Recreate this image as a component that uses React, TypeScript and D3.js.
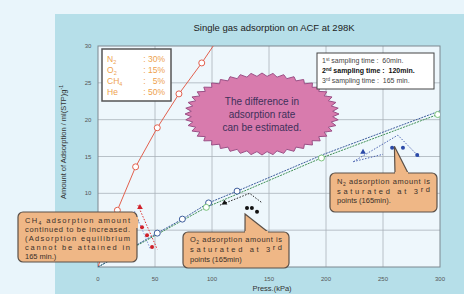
import { useEffect, useRef } from "react";
import * as d3 from "d3";

// isotherm data (pressure kPa, amount ml(STP)/g)
const pressureCH4 = [0, 17, 33, 52, 71, 91, 112];
const amountCH4 = [0, 7.7, 13.6, 18.9, 23.5, 27.7, 32.5];

const pressureN2 = [0, 52, 74, 97, 122, 198, 300];
const amountN2 = [0, 4.6, 6.5, 8.7, 10.3, 15.3, 21.2];

const pressureO2 = [0, 95, 196, 298];
const amountO2 = [0, 8.1, 14.8, 20.7];

// sampling points (1st, 2nd, 3rd ...)
const ch4KinP = [36.8, 38.6, 43, 47.4];
const ch4KinQ = [8.1, 5.4, 4.3, 2.7];
const o2KinP = [111, 130.7, 135, 139.5];
const o2KinQ = [8.7, 8.0, 8.0, 7.5];
const n2KinP = [232.5, 258, 267.5, 280];
const n2KinQ = [15.6, 16.2, 16.2, 15.2];

const ch4GuideA: [number, number][] = [[35, 8.4], [52, 2.4]];
const ch4GuideB: [number, number][] = [[32, 7.6], [46, 2.4]];
const o2Guide: [number, number][] = [[107, 8.4], [133, 10.0], [144, 8.7]];
const n2GuideA: [number, number][] = [[224, 14.3], [263, 17.9], [282, 14.9]];
const n2GuideB: [number, number][] = [[224, 14.3], [250, 15.3]];

const xTicks = [0, 50, 100, 150, 200, 250, 300];
const yTicks = [10, 15, 20, 25, 30];
const yGrid = [5, 10, 15, 20, 25];

const legendGas = [["N", "2"], ["O", "2"], ["CH", "4"], ["He", ""]];
const legendPct = [": 30%", ": 15%", ":   5%", ": 50%"];

const samplingOrd = [["1", "st"], ["2", "nd"], ["3", "rd"]];
const samplingTime = [" sampling time :  60min.", " sampling time :  120min.", " sampling time :  165 min."];

const FONT = "'Liberation Sans', Arial, sans-serif";

export default function App() {
  const svgRef = useRef<SVGSVGElement>(null);

  useEffect(() => {
    if (!svgRef.current) return;
    const svg = d3.select(svgRef.current);
    svg.selectAll("*").remove();

    const W = 464;
    const H = 294;
    const plot = { left: 98, right: 440, top: 46, bottom: 267 };

    const x = d3.scaleLinear().domain([0, 300]).range([plot.left, plot.right]);
    const y = d3.scaleLinear().domain([0, 30]).range([plot.bottom, plot.top]);

    svg.append("rect").attr("width", W).attr("height", H).attr("fill", "#e9f5fb");
    svg.append("rect").attr("x", 55).attr("y", 14).attr("width", W - 55).attr("height", H - 14).attr("fill", "#b6dfe9");

    svg.append("text")
      .attr("x", 274).attr("y", 31)
      .attr("text-anchor", "middle")
      .style("font-family", FONT).style("font-size", "9.5px").style("fill", "#222")
      .text("Single gas adsorption on ACF at 298K");

    svg.append("defs").append("clipPath").attr("id", "plotclip")
      .append("rect")
      .attr("x", plot.left).attr("y", plot.top)
      .attr("width", plot.right - plot.left).attr("height", plot.bottom - plot.top);

    svg.append("rect")
      .attr("x", plot.left).attr("y", plot.top)
      .attr("width", plot.right - plot.left).attr("height", plot.bottom - plot.top)
      .attr("fill", "#eef7fc");

    // grid
    const grid = svg.append("g").attr("stroke", "#a9b3ba").attr("stroke-width", 0.8);
    grid.selectAll(".gx").data(xTicks.slice(1, -1)).enter().append("line")
      .attr("x1", (d) => x(d)).attr("x2", (d) => x(d))
      .attr("y1", plot.top).attr("y2", plot.bottom);
    grid.selectAll(".gy").data(yGrid).enter().append("line")
      .attr("x1", plot.left).attr("x2", plot.right)
      .attr("y1", (d) => y(d)).attr("y2", (d) => y(d));

    svg.append("rect")
      .attr("x", plot.left).attr("y", plot.top)
      .attr("width", plot.right - plot.left).attr("height", plot.bottom - plot.top)
      .attr("fill", "none").attr("stroke", "#7d8890").attr("stroke-width", 1);

    // tick labels
    svg.selectAll(".xt").data(xTicks).enter().append("text")
      .attr("x", (d) => x(d)).attr("y", 281)
      .attr("text-anchor", "middle")
      .style("font-family", FONT).style("font-size", "6px").style("fill", "#555")
      .text((d) => d);
    svg.selectAll(".yt").data(yTicks).enter().append("text")
      .attr("x", 88).attr("y", (d) => y(d) + 2)
      .attr("text-anchor", "middle")
      .style("font-family", FONT).style("font-size", "6px").style("fill", "#555")
      .text((d) => d);

    svg.append("text")
      .attr("x", 272).attr("y", 291)
      .attr("text-anchor", "middle")
      .style("font-family", FONT).style("font-size", "7.5px").style("fill", "#333")
      .text("Press.(kPa)");

    const yl = svg.append("text")
      .attr("transform", "translate(66,85) rotate(-90)")
      .attr("text-anchor", "end")
      .style("font-family", FONT).style("font-size", "7.5px").style("fill", "#333");
    yl.append("tspan").text("Amount of Adsorption / ml(STP)g");
    yl.append("tspan").attr("dy", -3).style("font-size", "5px").text("-1");

    // starburst
    const cx = 262, cy = 114, rx = 77, ry = 41, spikes = 44;
    const star = d3.range(spikes * 2).map((i) => {
      const a = (i * Math.PI) / spikes;
      const r = i % 2 ? 0.92 : 1;
      return [cx + rx * r * Math.cos(a), cy + ry * r * Math.sin(a)] as [number, number];
    });
    svg.append("path")
      .attr("d", d3.line().curve(d3.curveLinearClosed)(star))
      .attr("fill", "#d87bad").attr("stroke", "#9b4f86").attr("stroke-width", 1);
    ["The difference in", "adsorption rate", "can be estimated."].forEach((t, i) => {
      svg.append("text")
        .attr("x", cx).attr("y", 105 + i * 13)
        .attr("text-anchor", "middle")
        .style("font-family", FONT).style("font-size", "10px").style("fill", "#40305a")
        .text(t);
    });

    // series
    const series = svg.append("g").attr("clip-path", "url(#plotclip)");
    const line = d3.line<[number, number]>().x((d) => x(d[0])).y((d) => y(d[1]));
    const zip = (p: number[], q: number[]) => p.map((v, i) => [v, q[i]] as [number, number]);

    const ch4 = zip(pressureCH4, amountCH4);
    const n2 = zip(pressureN2, amountN2);
    const o2 = zip(pressureO2, amountO2);

    series.append("path").attr("d", line(ch4)).attr("fill", "none")
      .attr("stroke", "#e2604e").attr("stroke-width", 1);
    series.append("path").attr("d", line(o2)).attr("fill", "none")
      .attr("stroke", "#3f8f55").attr("stroke-width", 1).attr("stroke-dasharray", "2,1");
    series.append("path").attr("d", line(n2)).attr("fill", "none")
      .attr("stroke", "#3d5d9c").attr("stroke-width", 1).attr("stroke-dasharray", "2,1");

    series.selectAll(".c4").data(ch4.slice(1)).enter().append("circle")
      .attr("cx", (d) => x(d[0])).attr("cy", (d) => y(d[1])).attr("r", 3)
      .attr("fill", "#fff").attr("stroke", "#e2604e").attr("stroke-width", 1);
    series.selectAll(".cn").data(n2.filter((d) => d[0] > 0 && d[0] < 150)).enter().append("circle")
      .attr("cx", (d) => x(d[0])).attr("cy", (d) => y(d[1])).attr("r", 3)
      .attr("fill", "#fff").attr("stroke", "#3d5d9c").attr("stroke-width", 1);
    series.selectAll(".co").data(o2.slice(1)).enter().append("circle")
      .attr("cx", (d) => x(d[0])).attr("cy", (d) => y(d[1])).attr("r", 3)
      .attr("fill", "#fff").attr("stroke", "#7cc47c").attr("stroke-width", 1);

    // sampling guides and points
    const guide = (pts: [number, number][], color: string) =>
      series.append("path").attr("d", line(pts)).attr("fill", "none")
        .attr("stroke", color).attr("stroke-width", 1).attr("stroke-dasharray", "1.5,1.5");
    guide(ch4GuideA, "#d33");
    guide(ch4GuideB, "#8a9ad8");
    guide(o2Guide, "#222");
    guide(n2GuideA, "#4a62b0");
    guide(n2GuideB, "#4a62b0");

    const tri = d3.symbol().type(d3.symbolTriangle).size(14);
    const kin = (p: number[], q: number[], color: string) => {
      const pts = zip(p, q);
      series.append("path")
        .attr("transform", `translate(${x(pts[0][0])},${y(pts[0][1])})`)
        .attr("d", tri()).attr("fill", color);
      series.selectAll(null).data(pts.slice(1)).enter().append("circle")
        .attr("cx", (d) => x(d[0])).attr("cy", (d) => y(d[1])).attr("r", 2)
        .attr("fill", color);
    };
    kin(ch4KinP, ch4KinQ, "#d0202a");
    kin(o2KinP, o2KinQ, "#111");
    kin(n2KinP, n2KinQ, "#2b4aa8");

    // legend box
    const lg = svg.append("g");
    lg.append("rect").attr("x", 102).attr("y", 49).attr("width", 69).attr("height", 52)
      .attr("fill", "#fff").attr("stroke", "#555").attr("stroke-width", 1.5);
    legendGas.forEach((g, i) => {
      const t = lg.append("text").attr("x", 107).attr("y", 62 + i * 11)
        .style("font-family", FONT).style("font-size", "8.5px").style("fill", "#eea24e");
      t.append("tspan").text(g[0]);
      if (g[1]) t.append("tspan").attr("dy", 2).style("font-size", "5.5px").text(g[1]);
      lg.append("text").attr("x", 165).attr("y", 62 + i * 11)
        .attr("text-anchor", "end").attr("xml:space", "preserve")
        .style("font-family", FONT).style("font-size", "8.5px").style("fill", "#eea24e")
        .text(legendPct[i]);
    });

    // sampling time box
    const sb = svg.append("g");
    sb.append("rect").attr("x", 317).attr("y", 53).attr("width", 117).attr("height", 36)
      .attr("fill", "#fff").attr("stroke", "#444").attr("stroke-width", 1);
    samplingOrd.forEach((o, i) => {
      const t = sb.append("text").attr("x", 322).attr("y", 63 + i * 10)
        .attr("xml:space", "preserve")
        .style("font-family", FONT).style("font-size", "7px")
        .style("fill", i === 1 ? "#111" : "#444")
        .style("font-weight", i === 1 ? "bold" : "normal");
      t.append("tspan").text(o[0]);
      t.append("tspan").attr("dy", -2.5).style("font-size", "4.5px").text(o[1]);
      t.append("tspan").attr("dy", 2.5).text(samplingTime[i]);
    });

    // callouts
    const callout = (
      box: { x: number; y: number; w: number; h: number },
      tail: [number, number][],
      lines: { parts: [string, boolean][]; justify: boolean }[],
      lineY: number,
      gap: number
    ) => {
      const g = svg.append("g");
      g.append("rect").attr("x", box.x).attr("y", box.y).attr("width", box.w).attr("height", box.h)
        .attr("rx", 5).attr("fill", "#efb786").attr("stroke", "#5a5048").attr("stroke-width", 1.2);
      g.append("path").attr("d", d3.line()(tail)).attr("fill", "#efb786")
        .attr("stroke", "#5a5048").attr("stroke-width", 1.2);
      // cover the seam between tail and box
      g.append("path").attr("d", d3.line()(tail.slice(0, 1).concat(tail.slice(-1)))).attr("stroke", "#efb786")
        .attr("stroke-width", 2);
      lines.forEach((ln, i) => {
        const t = g.append("text").attr("x", box.x + 7).attr("y", lineY + i * gap)
          .style("font-family", FONT).style("font-size", "7.5px").style("fill", "#3a302a");
        if (ln.justify) t.attr("textLength", box.w - 14).attr("lengthAdjust", "spacing");
        ln.parts.forEach(([s, sub]) => {
          const ts = t.append("tspan").text(s);
          if (sub) ts.attr("dy", 2).style("font-size", "5px");
          else if (t.selectAll("tspan").size() > 1) ts.attr("dy", -2);
        });
      });
    };

    callout(
      { x: 18, y: 212, w: 119, h: 50 },
      [[137, 217], [x(35), y(6.3)], [137, 228]],
      [
        { parts: [["CH", false], ["4", true], [" adsorption amount", false]], justify: true },
        { parts: [["continued to be increased.", false]], justify: true },
        { parts: [["(Adsorption equilibrium", false]], justify: true },
        { parts: [["cannot be attained in", false]], justify: true },
        { parts: [["165 min.)", false]], justify: false },
      ],
      223, 9
    );
    callout(
      { x: 183, y: 232, w: 106, h: 36 },
      [[245, 232], [x(129), y(7.2)], [268, 232]],
      [
        { parts: [["O", false], ["2", true], [" adsorption amount is", false]], justify: true },
        { parts: [["saturated at 3", false], ["rd", false]], justify: true },
        { parts: [["points (165min)", false]], justify: false },
      ],
      242, 10
    );
    callout(
      { x: 330, y: 173, w: 107, h: 39 },
      [[395, 173], [x(260), y(16.4)], [408, 173]],
      [
        { parts: [["N", false], ["2", true], [" adsorption amount is", false]], justify: true },
        { parts: [["saturated at 3", false], ["rd", false]], justify: true },
        { parts: [["points (165min).", false]], justify: false },
      ],
      184, 9.5
    );
  }, []);

  return (
    <svg
      ref={svgRef}
      width={464}
      height={294}
      style={{ position: "absolute", left: 0, top: 0 }}
    />
  );
}
